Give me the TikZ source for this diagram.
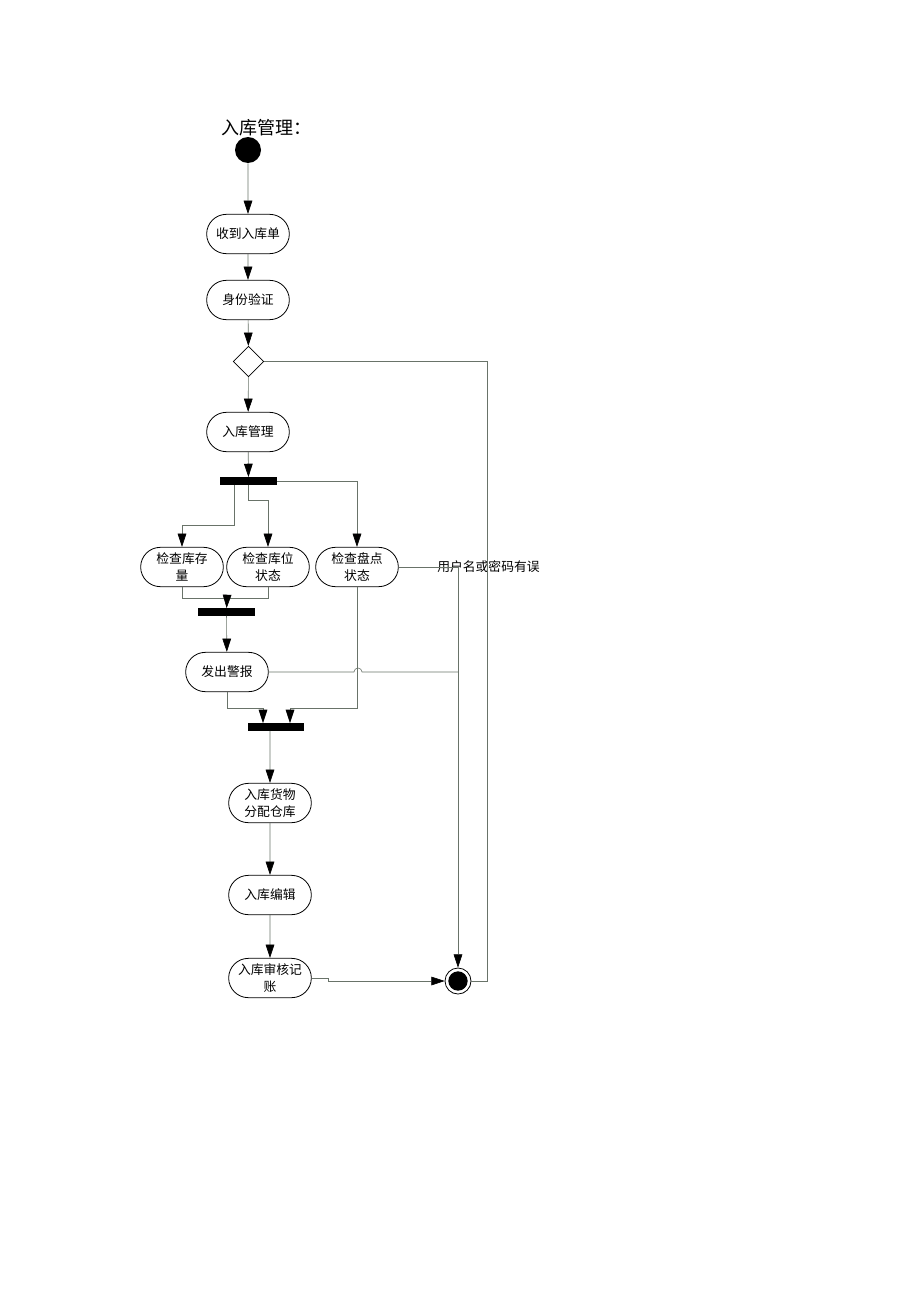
\documentclass[tikz,border=0pt]{standalone}
\usepackage{fontspec}
\newfontfamily\cjk{Noto Sans CJK SC}
\usetikzlibrary{arrows.meta,shapes.geometric,shapes.misc}
\definecolor{linegray}{RGB}{105,115,105}

\begin{document}
\begin{tikzpicture}[x=0.75pt,y=-0.75pt]
  \tikzstyle{every node}=[font=\cjk\fontsize{9.6}{12.5}\selectfont]
  \tikzstyle{act}=[draw,line width=0.6pt,rounded rectangle,minimum width=62pt,minimum height=29.5pt,inner sep=0pt,align=center]
  \tikzstyle{bar}=[fill=black,minimum width=42.5pt,minimum height=5.5pt,inner sep=0pt]
  \tikzstyle{line}=[draw=linegray,line width=0.45pt]
  \tikzstyle{flow}=[line,-{Triangle[length=10pt,width=6.5pt,color=black,fill=black]}]
  \useasboundingbox (0,0) rectangle (920,1302);
  \node (title) [anchor=west,font=\cjk\fontsize{13.5}{16}\selectfont] at (217,128) {入库管理：};
  \node (start) [circle,fill=black,minimum size=19.5pt,inner sep=0pt] at (248,150) {};
  \node (a1) [act] at (248,234) {收到入库单};
  \node (a2) [act] at (248,300) {身份验证};
  \node (dec) [diamond,draw,line width=0.6pt,minimum width=23pt,minimum height=23pt,inner sep=0pt] at (248.5,361.5) {};
  \node (a3) [act] at (248,432) {入库管理};
  \node (f1) [bar] at (248.5,481) {};
  \node (b1) [act] at (182,567) {检查库存\\量};
  \node (b2) [act] at (268,567) {检查库位\\状态};
  \node (b3) [act] at (357,567) {检查盘点\\状态};
  \node (err) [anchor=west,inner sep=0pt] at (437,567) {用户名或密码有误};
  \node (f2) [bar] at (226.5,612) {};
  \node (c1) [act] at (227,672) {发出警报};
  \node (f3) [bar] at (276,727) {};
  \node (d1) [act] at (270,803) {入库货物\\分配仓库};
  \node (d2) [act] at (270,895) {入库编辑};
  \node (d3) [act] at (270,978) {入库审核记\\账};
  \node (end) [circle,draw,line width=0.6pt,minimum size=19.5pt,inner sep=0pt] at (458,981) {};
  \node (endin) [circle,fill=black,minimum size=14.5pt,inner sep=0pt] at (end) {};
  \coordinate (r1) at (487,361.5);
  \coordinate (j2) at (227,598);
  \coordinate (j3a) at (263,708);
  \coordinate (j3b) at (290,708);
  \draw [flow] (start) -- (a1);
  \draw [flow] (a1) -- (a2);
  \draw [flow] (a2) -- (dec);
  \draw [flow] (dec) -- (a3);
  \draw [line] (dec) -- (r1) |- (end);
  \draw [flow] (a3) -- (f1);
  \draw [flow] (f1.south -| 234,0) -- ++(0,40) -| (b1);
  \draw [flow] (f1) -- ++(0,19) -| (b2);
  \draw [flow] (f1.east) -| (b3);
  \draw [line] (b1) |- (j2);
  \draw [line] (b2) |- (j2);
  \draw [flow] (j2) -- (f2);
  \draw [flow] (f2) -- (c1);
  \draw [flow] (b3) |- (j3b) -- (j3b |- f3.north);
  \draw [flow] (c1) |- (j3a) -- (j3a |- f3.north);
  \draw [line] (c1.east) -- (354,672) arc[start angle=180,end angle=0,radius=3pt] -- (458,672);
  \draw [flow] (b3.east) -| (end);
  \draw [flow] (f3.south -| d1) -- (d1);
  \draw [flow] (d1) -- (d2);
  \draw [flow] (d2) -- (d3);
  \draw [flow] (d3.east) -- ++(17,0) |- (end);
\end{tikzpicture}
\end{document}
